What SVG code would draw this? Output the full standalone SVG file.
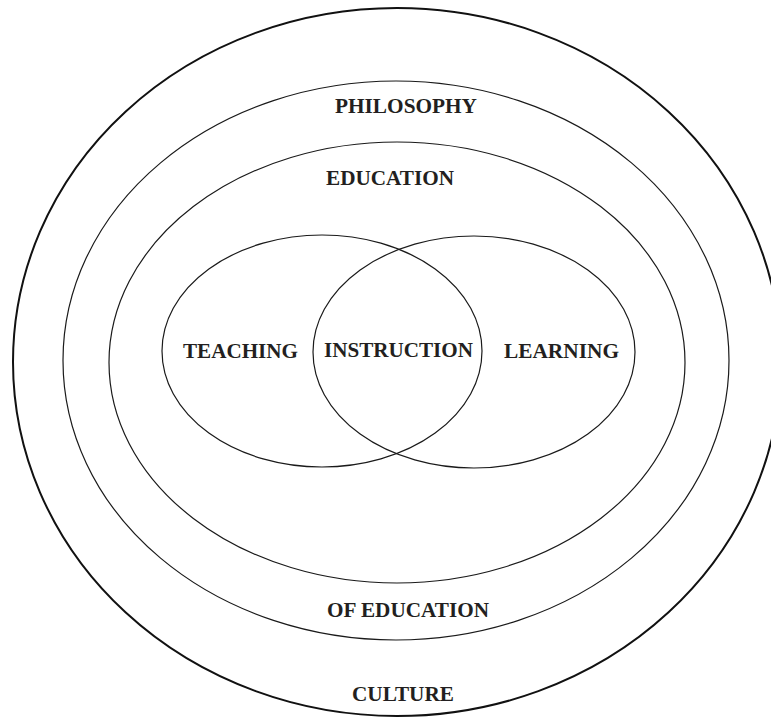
<svg xmlns="http://www.w3.org/2000/svg" width="771" height="717" viewBox="0 0 771 717">
<style>
.ring{fill:none;stroke:#1a1a1a;stroke-width:1.2}
.outer{fill:none;stroke:#111;stroke-width:2}
.lbl{font-family:"Liberation Serif","Times New Roman",serif;font-weight:bold;font-size:22px;fill:#231f20}
</style>
<rect width="771" height="717" fill="#fff"/>
<g id="culture">
<ellipse class="outer" cx="397" cy="362" rx="384" ry="354"/>
<text class="lbl" x="352" y="701" textLength="102" lengthAdjust="spacingAndGlyphs">CULTURE</text>
</g>
<g id="philosophy">
<ellipse class="ring" cx="396" cy="360.5" rx="333" ry="279.5"/>
<text class="lbl" x="335" y="113" textLength="142" lengthAdjust="spacingAndGlyphs">PHILOSOPHY</text>
<text class="lbl" x="327" y="617" textLength="162" lengthAdjust="spacingAndGlyphs">OF EDUCATION</text>
</g>
<g id="education">
<ellipse class="ring" cx="397" cy="362.5" rx="288" ry="220.5"/>
<text class="lbl" x="326" y="185" textLength="128" lengthAdjust="spacingAndGlyphs">EDUCATION</text>
</g>
<g id="teaching">
<ellipse class="ring" cx="322" cy="351" rx="160" ry="116"/>
<text class="lbl" x="183" y="358" textLength="115" lengthAdjust="spacingAndGlyphs">TEACHING</text>
</g>
<g id="learning">
<ellipse class="ring" cx="474" cy="352" rx="161" ry="116"/>
<text class="lbl" x="504" y="358" textLength="115" lengthAdjust="spacingAndGlyphs">LEARNING</text>
</g>
<g id="instruction">
<text class="lbl" x="324" y="357" textLength="149" lengthAdjust="spacingAndGlyphs">INSTRUCTION</text>
</g>
<g id="connectors"></g>
</svg>
